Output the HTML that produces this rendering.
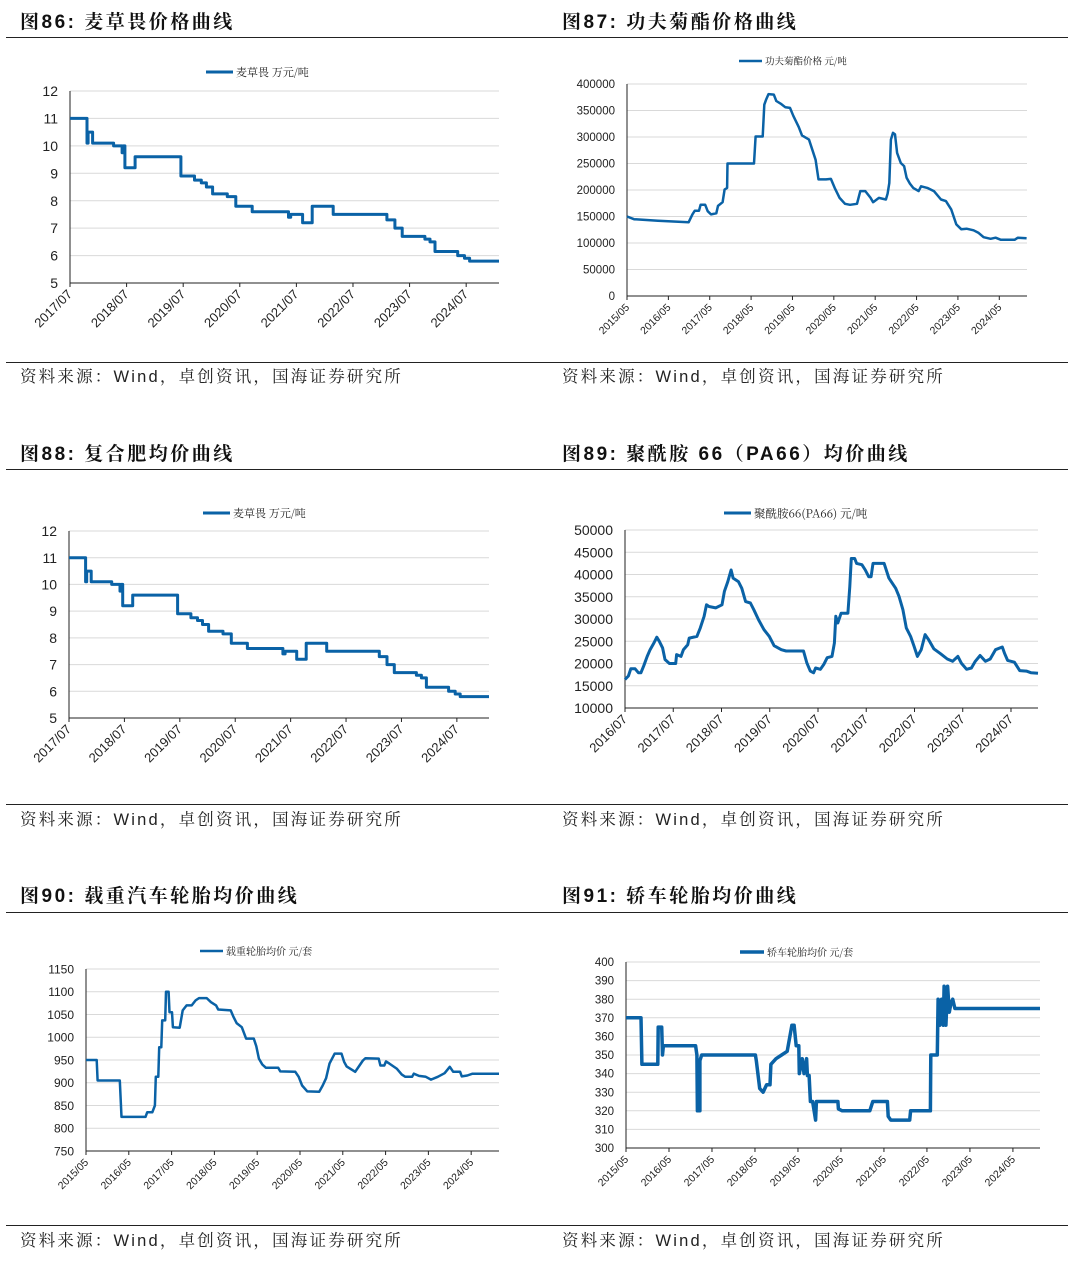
<!DOCTYPE html>
<html><head><meta charset="utf-8">
<style>
html,body{margin:0;padding:0;background:#fff;}
svg{display:block;font-family:"Liberation Sans","Noto Sans CJK SC",sans-serif;}
.title{font-size:19px;font-weight:bold;fill:#111;letter-spacing:2.5px;font-family:"Liberation Sans","Noto Serif CJK SC","Noto Sans CJK SC",sans-serif;}
.src{font-size:16.5px;fill:#222;letter-spacing:2.2px;font-family:"Liberation Sans","Noto Serif CJK SC",serif;}
.tick{fill:#222;}
.leg{fill:#222;font-family:"Noto Serif CJK SC","Noto Sans CJK SC",serif;}
</style></head>
<body>
<svg id="page" width="1080" height="1278" viewBox="0 0 1080 1278" xmlns="http://www.w3.org/2000/svg">
  <rect width="1080" height="1278" fill="#fff"/>
  <text class="title" x="20" y="28">图86:  麦草畏价格曲线</text>
  <text class="title" x="562" y="28">图87:  功夫菊酯价格曲线</text>
  <line x1="6" y1="37.5" x2="1068" y2="37.5" stroke="#222" stroke-width="1"/>
  <line x1="6" y1="362.5" x2="1068" y2="362.5" stroke="#222" stroke-width="1"/>
  <text class="src" x="20" y="382">资料来源：Wind，卓创资讯，国海证券研究所</text>
  <text class="src" x="562" y="382">资料来源：Wind，卓创资讯，国海证券研究所</text>

  <text class="title" x="20" y="460">图88:  复合肥均价曲线</text>
  <text class="title" x="562" y="460">图89:  聚酰胺 66（PA66）均价曲线</text>
  <line x1="6" y1="469.5" x2="1068" y2="469.5" stroke="#222" stroke-width="1"/>
  <line x1="6" y1="804.5" x2="1068" y2="804.5" stroke="#222" stroke-width="1"/>
  <text class="src" x="20" y="825">资料来源：Wind，卓创资讯，国海证券研究所</text>
  <text class="src" x="562" y="825">资料来源：Wind，卓创资讯，国海证券研究所</text>

  <text class="title" x="20" y="902">图90:  载重汽车轮胎均价曲线</text>
  <text class="title" x="562" y="902">图91:  轿车轮胎均价曲线</text>
  <line x1="6" y1="912.5" x2="1068" y2="912.5" stroke="#222" stroke-width="1"/>
  <line x1="6" y1="1225.5" x2="1068" y2="1225.5" stroke="#222" stroke-width="1"/>
  <text class="src" x="20" y="1246">资料来源：Wind，卓创资讯，国海证券研究所</text>
  <text class="src" x="562" y="1246">资料来源：Wind，卓创资讯，国海证券研究所</text>

  <g id="c1"></g>
  <g id="c2"></g>
  <g id="c3"></g>
  <g id="c4"></g>
  <g id="c5"></g>
  <g id="c6"></g>
</svg>
<script>
// ---- Data (decimal year, value) ----
const dicambaDates = [2017.5,2017.80,2017.82,2017.90,2018.27,2018.42,2018.44,2018.46,2018.47,2018.65,2019.46,2019.70,2019.82,2019.91,2020.02,2020.28,2020.43,2020.72,2021.36,2021.40,2021.61,2021.78,2022.15,2023.10,2023.24,2023.37,2023.77,2023.86,2023.95,2024.35,2024.47,2024.56,2025.08];
const dicambaValues = [11.0,10.1,10.5,10.1,10.0,9.75,10.0,10.0,9.2,9.6,8.9,8.75,8.65,8.5,8.25,8.15,7.8,7.6,7.4,7.5,7.2,7.8,7.5,7.3,7.0,6.7,6.6,6.5,6.15,6.0,5.9,5.8,5.8];
const dicambaYTicks = [5,6,7,8,9,10,11,12];
const dicambaXTicks = ["2017/07","2018/07","2019/07","2020/07","2021/07","2022/07","2023/07","2024/07"];

const lambdaDates = [2015.33,2015.50,2016.08,2016.82,2016.91,2016.97,2017.07,2017.11,2017.22,2017.28,2017.36,2017.49,2017.53,2017.64,2017.69,2017.75,2017.76,2018.40,2018.44,2018.61,2018.65,2018.69,2018.75,2018.88,2018.94,2019.06,2019.16,2019.27,2019.35,2019.48,2019.56,2019.73,2019.81,2019.89,2019.96,2020.14,2020.26,2020.35,2020.47,2020.60,2020.72,2020.89,2020.97,2021.09,2021.22,2021.28,2021.42,2021.59,2021.63,2021.67,2021.71,2021.76,2021.81,2021.86,2021.95,2022.03,2022.09,2022.17,2022.25,2022.38,2022.44,2022.59,2022.75,2022.92,2023.04,2023.17,2023.29,2023.41,2023.54,2023.71,2023.83,2023.95,2024.12,2024.24,2024.37,2024.70,2024.78,2024.99];
const lambdaValues = [150000,145000,142000,139000,154000,161000,161000,172000,172000,160000,154000,156000,170000,177000,201000,204000,250000,250000,301000,301000,361000,370000,381000,380000,368000,362000,356000,355000,340000,319000,303000,295000,276000,257000,220000,220000,221000,204000,185000,174000,172000,174000,198000,198000,185000,177000,185000,182000,193000,213000,295000,308000,305000,270000,251000,245000,223000,212000,204000,198000,207000,204000,198000,182000,179000,163000,135000,126000,127000,124000,119000,111000,108000,110000,106000,106000,110000,109000];
const lambdaYTicks = [0,50000,100000,150000,200000,250000,300000,350000,400000];
const lambdaXTicks = ["2015/05","2016/05","2017/05","2018/05","2019/05","2020/05","2021/05","2022/05","2023/05","2024/05"];

const pa66Dates = [2016.5,2016.57,2016.62,2016.71,2016.78,2016.83,2016.89,2016.96,2017.02,2017.10,2017.16,2017.21,2017.28,2017.33,2017.42,2017.55,2017.57,2017.66,2017.71,2017.80,2017.83,2017.99,2018.06,2018.14,2018.19,2018.24,2018.38,2018.51,2018.56,2018.63,2018.70,2018.74,2018.85,2018.92,2019.00,2019.10,2019.17,2019.27,2019.38,2019.49,2019.59,2019.74,2019.84,2020.20,2020.27,2020.34,2020.41,2020.45,2020.55,2020.62,2020.69,2020.79,2020.84,2020.87,2020.91,2020.98,2021.12,2021.16,2021.19,2021.26,2021.30,2021.41,2021.48,2021.55,2021.60,2021.64,2021.87,2021.97,2022.11,2022.18,2022.26,2022.33,2022.42,2022.49,2022.56,2022.64,2022.72,2022.79,2022.90,2023.04,2023.18,2023.29,2023.40,2023.47,2023.58,2023.68,2023.76,2023.86,2023.97,2024.07,2024.18,2024.32,2024.37,2024.43,2024.57,2024.68,2024.82,2024.92,2025.06];
const pa66Values = [16400,17200,18800,18800,17900,17900,19500,21600,23100,24600,25900,25000,23500,20900,20000,20000,22000,21600,23100,24200,25700,26100,28000,30600,33200,32800,32500,33200,36200,38400,41000,39200,38400,36900,33900,33600,32100,29800,27600,26100,24000,23100,22800,22800,20100,18300,17900,19000,18700,19800,21300,21600,24600,30600,29100,31300,31300,37300,43600,43600,42500,42200,41000,39500,39500,42500,42500,39200,36900,35100,32100,28000,26100,23900,21600,23100,26500,25400,23300,22200,21000,20500,21600,20100,18700,19000,20500,21800,20500,21000,23100,23700,22200,20700,20300,18400,18300,17900,17800];
const pa66YTicks = [10000,15000,20000,25000,30000,35000,40000,45000,50000];
const pa66XTicks = ["2016/07","2017/07","2018/07","2019/07","2020/07","2021/07","2022/07","2023/07","2024/07"];

const truckDates = [2015.33,2015.58,2015.60,2016.12,2016.16,2016.72,2016.76,2016.88,2016.94,2016.96,2017.02,2017.04,2017.09,2017.11,2017.18,2017.20,2017.26,2017.28,2017.34,2017.36,2017.52,2017.59,2017.68,2017.80,2017.89,2017.97,2018.15,2018.25,2018.37,2018.42,2018.71,2018.77,2018.85,2018.97,2019.07,2019.25,2019.31,2019.37,2019.45,2019.53,2019.82,2019.87,2020.22,2020.30,2020.38,2020.50,2020.78,2020.86,2020.94,2021.02,2021.14,2021.30,2021.36,2021.42,2021.62,2021.72,2021.80,2021.86,2022.17,2022.21,2022.30,2022.34,2022.42,2022.59,2022.71,2022.79,2022.95,2022.99,2023.11,2023.27,2023.39,2023.55,2023.71,2023.83,2023.91,2024.07,2024.11,2024.24,2024.36,2024.52,2024.98];
const truckValues = [950,950,905,905,825,825,835,835,850,913,913,978,978,1037,1037,1100,1100,1055,1055,1022,1021,1059,1070,1070,1081,1086,1086,1077,1070,1061,1059,1046,1031,1022,997,997,980,953,940,933,933,925,924,913,894,881,880,894,910,942,964,964,946,936,924,938,949,954,953,938,938,947,942,931,918,913,913,920,915,913,907,913,921,935,924,924,914,916,920,920,920];
const truckYTicks = [750,800,850,900,950,1000,1050,1100,1150];
const truckXTicks = ["2015/05","2016/05","2017/05","2018/05","2019/05","2020/05","2021/05","2022/05","2023/05","2024/05"];

const carDates = [2015.33,2015.68,2015.70,2016.07,2016.08,2016.16,2016.18,2016.20,2016.95,2016.98,2016.99,2017.05,2017.05,2017.09,2018.34,2018.36,2018.44,2018.52,2018.60,2018.68,2018.70,2018.82,2018.95,2019.08,2019.19,2019.24,2019.29,2019.35,2019.36,2019.43,2019.47,2019.53,2019.55,2019.59,2019.62,2019.67,2019.74,2019.76,2020.26,2020.27,2020.36,2021.00,2021.07,2021.41,2021.43,2021.49,2021.93,2021.95,2022.41,2022.42,2022.57,2022.59,2022.63,2022.67,2022.71,2022.73,2022.77,2022.81,2022.85,2022.89,2022.93,2022.98,2024.96];
const carValues = [370,370,345,345,365,365,350,355,355,350,320,320,347,350,350,347,332,330,334,334,345,348,350,352,366,366,355,355,340,348,340,348,339,339,325,325,315,325,325,321,320,320,325,325,317,315,315,320,320,350,350,380,366,380,366,387,366,387,373,378,380,375,375];
const carYTicks = [300,310,320,330,340,350,360,370,380,390,400];
const carXTicks = ["2015/05","2016/05","2017/05","2018/05","2019/05","2020/05","2021/05","2022/05","2023/05","2024/05"];

const NS = "http://www.w3.org/2000/svg";
function mk(parent, tag, attrs){
  const e = document.createElementNS(NS, tag);
  for (const k in attrs) e.setAttribute(k, attrs[k]);
  parent.appendChild(e);
  return e;
}

function drawChart(cfg){
  const g = document.getElementById(cfg.id);
  const xs = v => cfg.x0 + (v - cfg.t0) / (cfg.t1 - cfg.t0) * (cfg.x1 - cfg.x0);
  const ys = v => cfg.yb - (v - cfg.ymin) / (cfg.ymax - cfg.ymin) * (cfg.yb - cfg.yt);
  cfg.yTicks.forEach(v => {
    const y = ys(v);
    if (v !== cfg.ymin) {
      const gl = mk(g, "line", {x1: cfg.x0, x2: cfg.x1, y1: y, y2: y, stroke: "#d9d9d9", "stroke-width": 1});
      
      
    }
    const t = mk(g, "text", {x: cfg.x0 - 12, y: y + cfg.yfs * 0.36, "text-anchor": "end", "font-size": cfg.yfs, class: "tick"});
    
    
    t.textContent = String(v);
  });
  const ya = mk(g, "line", {x1: cfg.x0, x2: cfg.x0, y1: cfg.yt, y2: cfg.yb, stroke: "#222", "stroke-width": 1});
  
  
  const xa = mk(g, "line", {x1: cfg.x0, x2: cfg.x1, y1: cfg.yb, y2: cfg.yb, stroke: "#222", "stroke-width": 1});
  
  
  cfg.xTicks.forEach((lab, i) => {
    const x = xs(cfg.t0 + i);
    const tk = mk(g, "line", {x1: x, x2: x, y1: cfg.yb, y2: cfg.yb + 4, stroke: "#222", "stroke-width": 1});
    
    
    const t = mk(g, "text", {x: x + 3, y: cfg.yb + 12, "text-anchor": "end", "font-size": cfg.xfs, class: "tick", transform: `rotate(-45 ${x + 3} ${cfg.yb + 12})`});
    
    
    t.textContent = lab;
  });
  let d = "";
  cfg.dates.forEach((t, i) => {
    const x = xs(t), y = ys(cfg.values[i]);
    if (i === 0) d += `M${x.toFixed(1)},${y.toFixed(1)}`;
    else if (cfg.step) d += `H${x.toFixed(1)}V${y.toFixed(1)}`;
    else d += `L${x.toFixed(1)},${y.toFixed(1)}`;
  });
  const p = mk(g, "path", {d: d, fill: "none", stroke: "#0a62a6", "stroke-width": cfg.sw, "stroke-linejoin": "round"});
  
  
  const ll = mk(g, "line", {x1: cfg.lx, x2: cfg.lx + cfg.lw, y1: cfg.ly, y2: cfg.ly, stroke: "#0a62a6", "stroke-width": cfg.sw});
  
  
  const lt = mk(g, "text", {x: cfg.lx + cfg.lw + 3, y: cfg.ly + cfg.lfs * 0.38, "font-size": cfg.lfs, class: "leg"});
  
  
  lt.textContent = cfg.legend;
}

drawChart({id:"c1", x0:70, x1:499, yt:91, yb:283, t0:2017.5, t1:2025.08, ymin:5, ymax:12, yTicks:dicambaYTicks, xTicks:dicambaXTicks, dates:dicambaDates, values:dicambaValues, step:true, sw:3, yfs:14, xfs:13, lx:206, lw:27, ly:72, lfs:11, legend:"麦草畏  万元/吨"});
drawChart({id:"c2", x0:627, x1:1027, yt:84, yb:296, t0:2015.33, t1:2025.0, ymin:0, ymax:400000, yTicks:lambdaYTicks, xTicks:lambdaXTicks, dates:lambdaDates, values:lambdaValues, step:false, sw:2.5, yfs:11.5, xfs:10.5, lx:739, lw:23, ly:61, lfs:9.5, legend:"功夫菊酯价格  元/吨"});
drawChart({id:"c3", x0:69, x1:489, yt:531, yb:718, t0:2017.5, t1:2025.08, ymin:5, ymax:12, yTicks:dicambaYTicks, xTicks:dicambaXTicks, dates:dicambaDates, values:dicambaValues, step:true, sw:3, yfs:14, xfs:13, lx:203, lw:27, ly:513, lfs:11, legend:"麦草畏  万元/吨"});
drawChart({id:"c4", x0:625, x1:1038, yt:530, yb:708, t0:2016.5, t1:2025.06, ymin:10000, ymax:50000, yTicks:pa66YTicks, xTicks:pa66XTicks, dates:pa66Dates, values:pa66Values, step:false, sw:3, yfs:14, xfs:13, lx:724, lw:27, ly:513, lfs:11.5, legend:"聚酰胺66(PA66)  元/吨"});
drawChart({id:"c5", x0:86, x1:499, yt:969, yb:1151, t0:2015.33, t1:2024.98, ymin:750, ymax:1150, yTicks:truckYTicks, xTicks:truckXTicks, dates:truckDates, values:truckValues, step:false, sw:2.5, yfs:12, xfs:10.5, lx:200, lw:23, ly:951, lfs:10, legend:"载重轮胎均价  元/套"});
drawChart({id:"c6", x0:626, x1:1040, yt:962, yb:1148, t0:2015.33, t1:2024.96, ymin:300, ymax:400, yTicks:carYTicks, xTicks:carXTicks, dates:carDates, values:carValues, step:false, sw:3.5, yfs:11.5, xfs:10.5, lx:740, lw:24, ly:952, lfs:10, legend:"轿车轮胎均价  元/套"});
</script>
</body></html>
